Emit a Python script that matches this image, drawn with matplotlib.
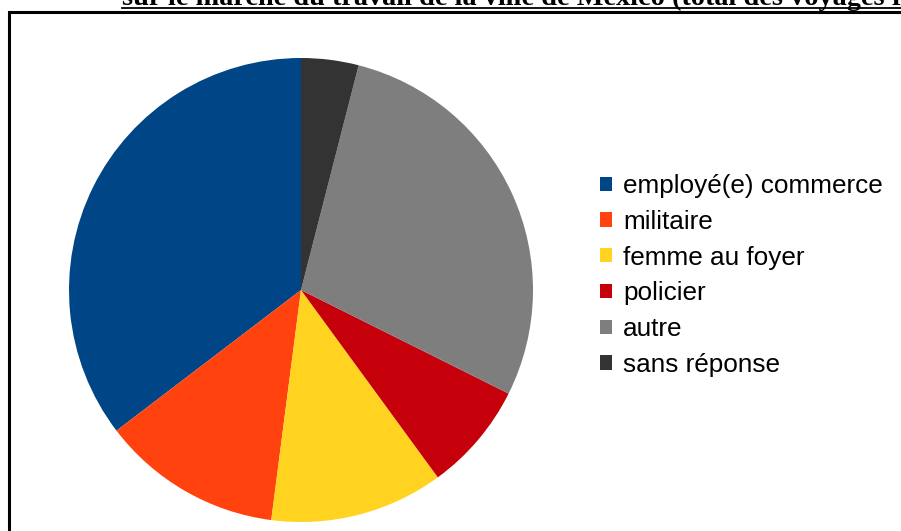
import matplotlib.pyplot as plt
from matplotlib.patches import Rectangle, Patch

# data
categories = ['employé(e) commerce', 'militaire', 'femme au foyer',
              'policier', 'autre', 'sans réponse']
values = [35.4, 12.6, 12.1, 7.6, 28.4, 4.0]
colors = ['#004586', '#ff420e', '#ffd320', '#c5000b', '#7e7e7e', '#333333']
title = 'sur le marché du travail de la ville de Mexico (total des voyages r'

W, H = 901, 531
fig = plt.figure(figsize=(W / 100, H / 100), dpi=100)

# pie centre (301, 290) px from top-left, radius 232 px
cx, cy, r = 301, 290, 232
ax = fig.add_axes([(cx - r) / W, (H - cy - r) / H, 2 * r / W, 2 * r / H])
ax.pie(values, colors=colors, startangle=90, counterclock=True,
       radius=1, wedgeprops=dict(linewidth=0))
ax.set_xlim(-1, 1)
ax.set_ylim(-1, 1)
ax.set_aspect('equal')
ax.axis('off')

# frame round the chart
fig.patches.append(Rectangle((8.5 / W, -0.1), 1.2, (H - 12) / H + 0.1,
                             transform=fig.transFigure, fill=False,
                             edgecolor='black', linewidth=2.2))

# title, cut off at the top edge as in the original page crop
fig.text(122 / W, (H - 5) / H, title, family='Liberation Serif',
         weight='bold', fontsize=20.3, va='baseline', ha='left')
fig.add_artist(plt.Line2D([122 / W, 1.0], [(H - 7.5) / H] * 2,
                          transform=fig.transFigure, color='black', lw=1.3))

handles = [Patch(facecolor=c, edgecolor='none') for c in colors]
fig.legend(handles, categories, loc='upper left',
           bbox_to_anchor=(600 / W, (H - 174) / H), frameon=False,
           prop=dict(family='Liberation Sans', size=18.8),
           handlelength=0.46, handleheight=0.46, handletextpad=0.42,
           labelspacing=0.45, borderpad=0, borderaxespad=0)

fig.savefig('out.png', dpi=100)
